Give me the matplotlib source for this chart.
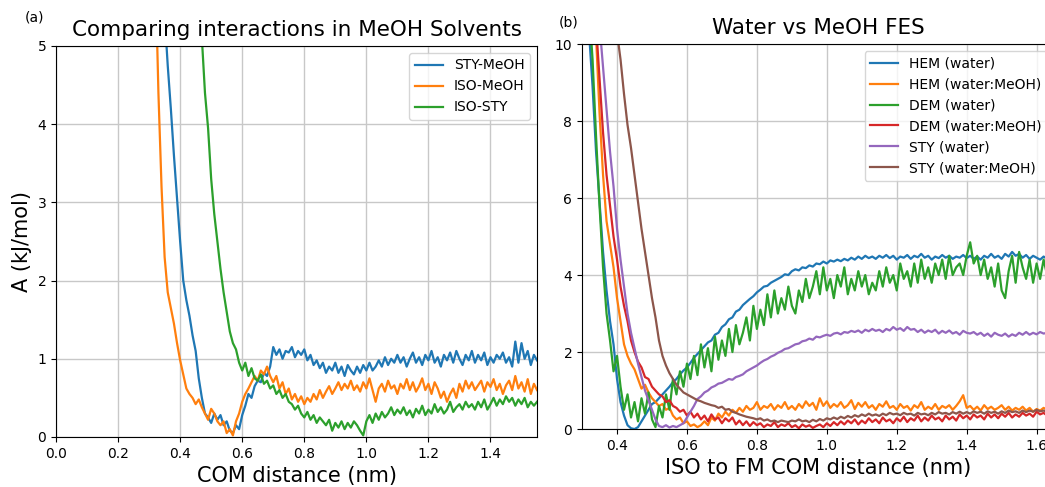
import matplotlib
import matplotlib.pyplot as plt
import numpy as np

plt.rcParams['font.family'] = 'DejaVu Sans'

step = 0.01  # nm between samples

# (a) interactions in MeOH, samples start at these COM distances
sty_meoh_x0 = 0.32
sty_meoh = [9.0, 7.5, 6.4, 5.4, 4.75, 4.2, 3.6, 3.05, 2.5, 2.0,
            1.75, 1.55, 1.3, 1.1, 0.75, 0.5, 0.3, 0.25, 0.18, 0.3,
            0.22, 0.28, 0.15, 0.2, 0.08, 0.05, 0.15, 0.1, 0.28, 0.4,
            0.55, 0.5, 0.65, 0.72, 0.7, 0.82, 0.78, 0.9, 1.15, 1.05,
            1.12, 1.0, 1.1, 1.08, 1.15, 1.02, 1.1, 1.05, 1.12, 0.98,
            1.05, 0.92, 0.98, 0.88, 0.95, 0.82, 0.9, 0.85, 0.95, 0.82,
            0.9, 0.78, 0.92, 0.85, 0.8, 0.9, 0.82, 0.92, 0.85, 0.95,
            0.85, 0.9, 0.98, 0.9, 1.02, 0.92, 1.0, 0.95, 1.05, 0.95,
            1.02, 0.9, 1.0, 1.08, 0.95, 1.02, 0.92, 1.05, 0.98, 1.1,
            0.95, 1.02, 0.9, 1.05, 0.98, 1.08, 0.95, 1.1, 1.0, 0.92,
            1.05, 0.98, 1.1, 0.95, 1.05, 0.98, 1.08, 0.92, 1.02, 0.95,
            1.05, 1.0, 1.08, 0.95, 1.02, 0.9, 1.22, 0.95, 1.2, 1.0,
            1.1, 0.92, 1.05, 0.98]

iso_meoh_x0 = 0.32
iso_meoh = [6.0, 4.4, 3.2, 2.3, 1.85, 1.65, 1.45, 1.2, 0.98, 0.8,
            0.62, 0.55, 0.5, 0.42, 0.48, 0.38, 0.3, 0.22, 0.36, 0.3,
            0.2, 0.15, 0.2, 0.05, 0.1, 0.02, 0.2, 0.3, 0.45, 0.55,
            0.62, 0.7, 0.78, 0.72, 0.85, 0.8, 0.9, 0.78, 0.7, 0.78,
            0.62, 0.7, 0.55, 0.62, 0.48, 0.55, 0.45, 0.52, 0.42, 0.5,
            0.45, 0.55, 0.48, 0.6, 0.5, 0.58, 0.65, 0.55, 0.62, 0.7,
            0.6, 0.68, 0.62, 0.72, 0.6, 0.66, 0.58, 0.7, 0.62, 0.75,
            0.6, 0.45, 0.62, 0.68, 0.58, 0.72, 0.62, 0.66, 0.55, 0.68,
            0.62, 0.74, 0.6, 0.7, 0.58, 0.65, 0.75, 0.6, 0.68, 0.55,
            0.7, 0.62, 0.5, 0.58, 0.45, 0.55, 0.62, 0.5, 0.68, 0.58,
            0.72, 0.62, 0.7, 0.6, 0.66, 0.72, 0.58, 0.7, 0.64, 0.74,
            0.6, 0.68, 0.55, 0.66, 0.72, 0.6, 0.78, 0.62, 0.7, 0.58,
            0.74, 0.55, 0.68, 0.6]

iso_sty_x0 = 0.45
iso_sty = [6.0, 5.6, 5.1, 4.4, 3.95, 3.3, 2.85, 2.5, 2.15, 1.85,
           1.6, 1.35, 1.2, 1.12, 0.95, 0.85, 0.95, 0.78, 0.88, 0.75,
           0.72, 0.8, 0.68, 0.72, 0.62, 0.66, 0.55, 0.6, 0.5, 0.55,
           0.45, 0.42, 0.35, 0.4, 0.3, 0.25, 0.32, 0.22, 0.28, 0.18,
           0.25, 0.2, 0.15, 0.22, 0.08, 0.18, 0.12, 0.2, 0.1, 0.18,
           0.12, 0.2, 0.15, 0.08, 0.02, 0.2, 0.28, 0.18, 0.3, 0.22,
           0.32, 0.25, 0.3, 0.38, 0.28, 0.35, 0.3, 0.38, 0.28, 0.34,
           0.25, 0.36, 0.3, 0.4, 0.28, 0.35, 0.3, 0.42, 0.32, 0.38,
           0.3, 0.35, 0.45, 0.32, 0.38, 0.42, 0.35, 0.45, 0.38, 0.42,
           0.35, 0.45, 0.38, 0.48, 0.35, 0.42, 0.5, 0.4, 0.48, 0.42,
           0.52, 0.45, 0.5, 0.4, 0.48, 0.42, 0.5, 0.38, 0.45, 0.4,
           0.45]

# (b) water vs water:MeOH
hem_w_x0 = 0.31
hem_w = [11.5, 10.3, 8.9, 7.2, 5.9, 4.6, 3.6, 2.8, 2.2, 1.3,
         0.7, 0.35, 0.1, 0.02, 0.0, 0.05, 0.2, 0.35, 0.5, 0.65,
         0.7, 0.8, 0.9, 1.0, 1.1, 1.22, 1.3, 1.42, 1.52, 1.6,
         1.72, 1.85, 1.95, 2.05, 2.15, 2.25, 2.3, 2.45, 2.5, 2.65,
         2.72, 2.85, 2.9, 3.05, 3.1, 3.22, 3.3, 3.38, 3.45, 3.55,
         3.62, 3.7, 3.72, 3.8, 3.85, 3.9, 3.95, 4.02, 4.0, 4.1,
         4.15, 4.12, 4.2, 4.18, 4.25, 4.22, 4.3, 4.28, 4.35, 4.3,
         4.38, 4.35, 4.4, 4.36, 4.42, 4.38, 4.45, 4.4, 4.48, 4.42,
         4.5, 4.44, 4.48, 4.42, 4.5, 4.45, 4.52, 4.44, 4.5, 4.4,
         4.48, 4.45, 4.52, 4.42, 4.5, 4.46, 4.55, 4.45, 4.5, 4.4,
         4.48, 4.44, 4.52, 4.45, 4.5, 4.42, 4.48, 4.45, 4.52, 4.44,
         4.5, 4.42, 4.48, 4.4, 4.5, 4.45, 4.55, 4.45, 4.5, 4.42,
         4.55, 4.48, 4.6, 4.5, 4.55, 4.45, 4.52, 4.42, 4.5, 4.45,
         4.4, 4.48, 4.42, 4.45, 4.4, 4.45]

hem_wm_x0 = 0.33
hem_wm = [11.0, 10.2, 8.2, 6.6, 5.4, 4.8, 4.2, 3.4, 2.8, 2.2,
          1.9, 1.7, 1.55, 1.3, 1.05, 1.15, 0.95, 0.8, 0.7, 0.6,
          0.65, 0.5, 0.55, 0.35, 0.25, 0.3, 0.15, 0.2, 0.08, 0.12,
          0.05, 0.1, 0.2, 0.1, 0.3, 0.22, 0.4, 0.3, 0.45, 0.35,
          0.5, 0.42, 0.55, 0.45, 0.6, 0.5, 0.55, 0.7, 0.5, 0.6,
          0.55, 0.65, 0.5, 0.62, 0.55, 0.7, 0.52, 0.6, 0.5, 0.65,
          0.55, 0.72, 0.6, 0.68, 0.5, 0.8, 0.6, 0.72, 0.55, 0.65,
          0.58, 0.7, 0.55, 0.62, 0.75, 0.52, 0.68, 0.58, 0.7, 0.55,
          0.62, 0.5, 0.65, 0.58, 0.72, 0.55, 0.6, 0.5, 0.65, 0.55,
          0.6, 0.48, 0.62, 0.55, 0.7, 0.5, 0.58, 0.52, 0.65, 0.5,
          0.6, 0.55, 0.62, 0.5, 0.6, 0.72, 0.88, 0.55, 0.6, 0.5,
          0.58, 0.48, 0.62, 0.52, 0.58, 0.5, 0.55, 0.62, 0.5, 0.58,
          0.48, 0.55, 0.5, 0.58, 0.48, 0.55, 0.45, 0.52, 0.48, 0.55,
          0.5, 0.52, 0.48, 0.5]

dem_w_x0 = 0.31
dem_w = [12.0, 11.0, 9.6, 7.6, 5.8, 4.2, 3.0, 2.3, 1.5, 1.9,
         1.1, 0.5, 0.9, 0.3, 0.7, 0.2, 0.8, 0.4, 0.95, 0.25,
         0.05, 0.6, 0.3, 0.9, 0.5, 1.3, 0.9, 1.5, 1.1, 1.7,
         1.3, 1.9, 1.4, 2.2, 1.6, 2.1, 1.5, 2.4, 1.8, 2.3,
         1.9, 2.6, 2.0, 2.7, 2.2, 2.5, 2.9, 2.3, 3.2, 2.6,
         3.1, 2.7, 3.5, 2.9, 3.6, 3.0, 3.4, 3.1, 3.7, 3.2,
         3.0, 3.6, 3.3, 3.9, 3.4, 3.7, 4.1, 3.5, 4.2, 3.6,
         3.9, 3.4, 4.0, 3.7, 4.2, 3.5, 3.9, 3.6, 4.1, 3.7,
         4.0, 3.5, 3.8, 3.6, 4.1, 3.7, 4.2, 3.8, 4.0, 3.6,
         4.3, 3.9, 4.1, 3.7, 4.3, 3.8, 4.4, 3.9, 4.2, 3.8,
         4.3, 4.0, 4.4, 3.9, 4.5, 4.0, 4.2, 4.3, 4.0, 4.5,
         4.85, 4.3, 4.5, 4.0, 4.4, 3.9, 4.2, 3.7, 4.3, 3.6,
         3.4, 4.1, 4.5, 3.8, 4.6, 4.2, 3.9, 4.4, 3.8, 4.3,
         3.9, 4.4, 4.0, 4.5, 4.1, 4.4, 4.0, 4.3, 4.1, 4.3]

dem_wm_x0 = 0.33
dem_wm = [11.5, 10.5, 9.1, 7.7, 6.6, 5.8, 5.0, 4.4, 3.7, 3.2,
          2.8, 2.3, 2.0, 1.75, 1.6, 1.35, 1.3, 1.1, 1.0, 0.9,
          0.85, 0.7, 0.75, 0.6, 0.55, 0.45, 0.5, 0.35, 0.45, 0.3,
          0.4, 0.25, 0.35, 0.2, 0.38, 0.25, 0.3, 0.15, 0.28, 0.2,
          0.3, 0.12, 0.22, 0.1, 0.2, 0.08, 0.18, 0.1, 0.15, 0.05,
          0.12, 0.08, 0.18, 0.05, 0.12, 0.08, 0.15, 0.05, 0.1, 0.02,
          0.12, 0.06, 0.1, 0.03, 0.08, 0.12, 0.05, 0.15, 0.08, 0.18,
          0.1, 0.2, 0.12, 0.22, 0.15, 0.25, 0.12, 0.22, 0.15, 0.28,
          0.18, 0.25, 0.15, 0.3, 0.2, 0.25, 0.15, 0.28, 0.2, 0.32,
          0.18, 0.28, 0.22, 0.35, 0.2, 0.3, 0.22, 0.35, 0.25, 0.3,
          0.2, 0.35, 0.25, 0.32, 0.22, 0.38, 0.28, 0.35, 0.25, 0.38,
          0.3, 0.35, 0.25, 0.4, 0.3, 0.38, 0.28, 0.4, 0.32, 0.42,
          0.3, 0.38, 0.32, 0.42, 0.35, 0.4, 0.32, 0.45, 0.38, 0.42,
          0.35, 0.45, 0.4, 0.42, 0.38, 0.45, 0.4, 0.42]

sty_w_x0 = 0.34
sty_w = [11.2, 10.5, 9.4, 8.3, 7.2, 6.3, 5.2, 4.4, 3.7, 3.0,
         2.5, 2.1, 1.7, 1.35, 1.0, 0.75, 0.5, 0.25, 0.08, 0.05,
         0.1, 0.04, 0.08, 0.05, 0.1, 0.15, 0.3, 0.45, 0.6, 0.78,
         0.85, 0.95, 1.0, 1.08, 1.12, 1.18, 1.2, 1.25, 1.3, 1.28,
         1.35, 1.38, 1.42, 1.5, 1.55, 1.6, 1.65, 1.72, 1.78, 1.82,
         1.88, 1.92, 1.98, 2.02, 2.08, 2.1, 2.15, 2.2, 2.22, 2.28,
         2.3, 2.35, 2.32, 2.4, 2.38, 2.42, 2.45, 2.42, 2.48, 2.5,
         2.46, 2.52, 2.5, 2.55, 2.52, 2.56, 2.5, 2.58, 2.54, 2.6,
         2.55, 2.58, 2.52, 2.6, 2.56, 2.65, 2.58, 2.62, 2.55, 2.65,
         2.58, 2.6, 2.52, 2.58, 2.5, 2.56, 2.52, 2.58, 2.48, 2.55,
         2.5, 2.56, 2.48, 2.52, 2.45, 2.55, 2.5, 2.48, 2.52, 2.45,
         2.5, 2.42, 2.48, 2.4, 2.5, 2.45, 2.42, 2.48, 2.4, 2.46,
         2.42, 2.5, 2.45, 2.52, 2.45, 2.5, 2.46, 2.52, 2.48, 2.5,
         2.45, 2.5, 2.48, 2.5, 2.46, 2.5, 2.48]

sty_wm_x0 = 0.39
sty_wm = [11.0, 10.3, 9.6, 8.7, 7.9, 7.3, 6.6, 5.9, 5.2, 4.6,
          4.0, 3.4, 2.9, 2.3, 1.9, 1.65, 1.45, 1.3, 1.15, 1.05,
          0.95, 0.9, 0.85, 0.8, 0.75, 0.72, 0.68, 0.65, 0.62, 0.6,
          0.55, 0.58, 0.5, 0.52, 0.45, 0.42, 0.38, 0.35, 0.32, 0.3,
          0.28, 0.25, 0.28, 0.22, 0.25, 0.2, 0.22, 0.18, 0.22, 0.2,
          0.18, 0.22, 0.2, 0.25, 0.2, 0.22, 0.18, 0.24, 0.2, 0.26,
          0.22, 0.28, 0.25, 0.3, 0.26, 0.32, 0.28, 0.34, 0.3, 0.36,
          0.32, 0.38, 0.34, 0.4, 0.35, 0.38, 0.34, 0.4, 0.36, 0.42,
          0.38, 0.4, 0.36, 0.42, 0.38, 0.4, 0.35, 0.42, 0.38, 0.4,
          0.36, 0.42, 0.38, 0.44, 0.4, 0.42, 0.38, 0.44, 0.4, 0.45,
          0.4, 0.44, 0.4, 0.46, 0.42, 0.45, 0.4, 0.46, 0.42, 0.45,
          0.4, 0.46, 0.42, 0.48, 0.44, 0.46, 0.42, 0.48, 0.44, 0.48,
          0.45, 0.5, 0.46, 0.48, 0.45, 0.5, 0.46, 0.48, 0.45, 0.5,
          0.46, 0.48]


def xs(x0, y):
    return x0 + step * np.arange(len(y))


colors = ['#1f77b4', '#ff7f0e', '#2ca02c', '#d62728', '#9467bd', '#8c564b']
lw = 1.6

fig = plt.figure(figsize=(10.45, 4.87), dpi=100)

# 画图 (a)
ax1 = fig.add_axes([0.0536, 0.1027, 0.4603, 0.8029])
ax1.plot(xs(sty_meoh_x0, sty_meoh), sty_meoh, color=colors[0], lw=lw, label='STY-MeOH')
ax1.plot(xs(iso_meoh_x0, iso_meoh), iso_meoh, color=colors[1], lw=lw, label='ISO-MeOH')
ax1.plot(xs(iso_sty_x0, iso_sty), iso_sty, color=colors[2], lw=lw, label='ISO-STY')
ax1.set_xlim(0, 1.55)
ax1.set_ylim(0, 5)
ax1.set_xticks(np.arange(0, 1.41, 0.2))
ax1.set_yticks(range(0, 6))
ax1.grid(True, color='#c8c8c8', lw=1.0)
ax1.set_title('Comparing interactions in MeOH Solvents', fontsize=15.5, pad=7)
ax1.set_xlabel('COM distance (nm)', fontsize=15)
ax1.set_ylabel('A (kJ/mol)', fontsize=15)
ax1.tick_params(labelsize=10)
ax1.legend(loc='upper right', fontsize=10)

# 画图 (b)
ax2 = fig.add_axes([0.557, 0.119, 0.4517, 0.7906])
ax2.plot(xs(hem_w_x0, hem_w), hem_w, color=colors[0], lw=lw, label='HEM (water)')
ax2.plot(xs(hem_wm_x0, hem_wm), hem_wm, color=colors[1], lw=lw, label='HEM (water:MeOH)')
ax2.plot(xs(dem_w_x0, dem_w), dem_w, color=colors[2], lw=lw, label='DEM (water)')
ax2.plot(xs(dem_wm_x0, dem_wm), dem_wm, color=colors[3], lw=lw, label='DEM (water:MeOH)')
ax2.plot(xs(sty_w_x0, sty_w), sty_w, color=colors[4], lw=lw, label='STY (water)')
ax2.plot(xs(sty_wm_x0, sty_wm), sty_wm, color=colors[5], lw=lw, label='STY (water:MeOH)')
ax2.set_xlim(0.3, 1.65)
ax2.set_ylim(0, 10)
ax2.set_xticks(np.arange(0.4, 1.61, 0.2))
ax2.set_yticks(range(0, 11, 2))
ax2.grid(True, color='#c8c8c8', lw=1.0)
ax2.set_title('Water vs MeOH FES', fontsize=15.5, pad=7)
ax2.set_xlabel('ISO to FM COM distance (nm)', fontsize=15)
ax2.tick_params(labelsize=10)
ax2.legend(loc='upper right', fontsize=10)

fig.text(0.024, 0.955, '(a)', fontsize=10)
fig.text(0.535, 0.945, '(b)', fontsize=10)

plt.savefig('out.png', dpi=100)
